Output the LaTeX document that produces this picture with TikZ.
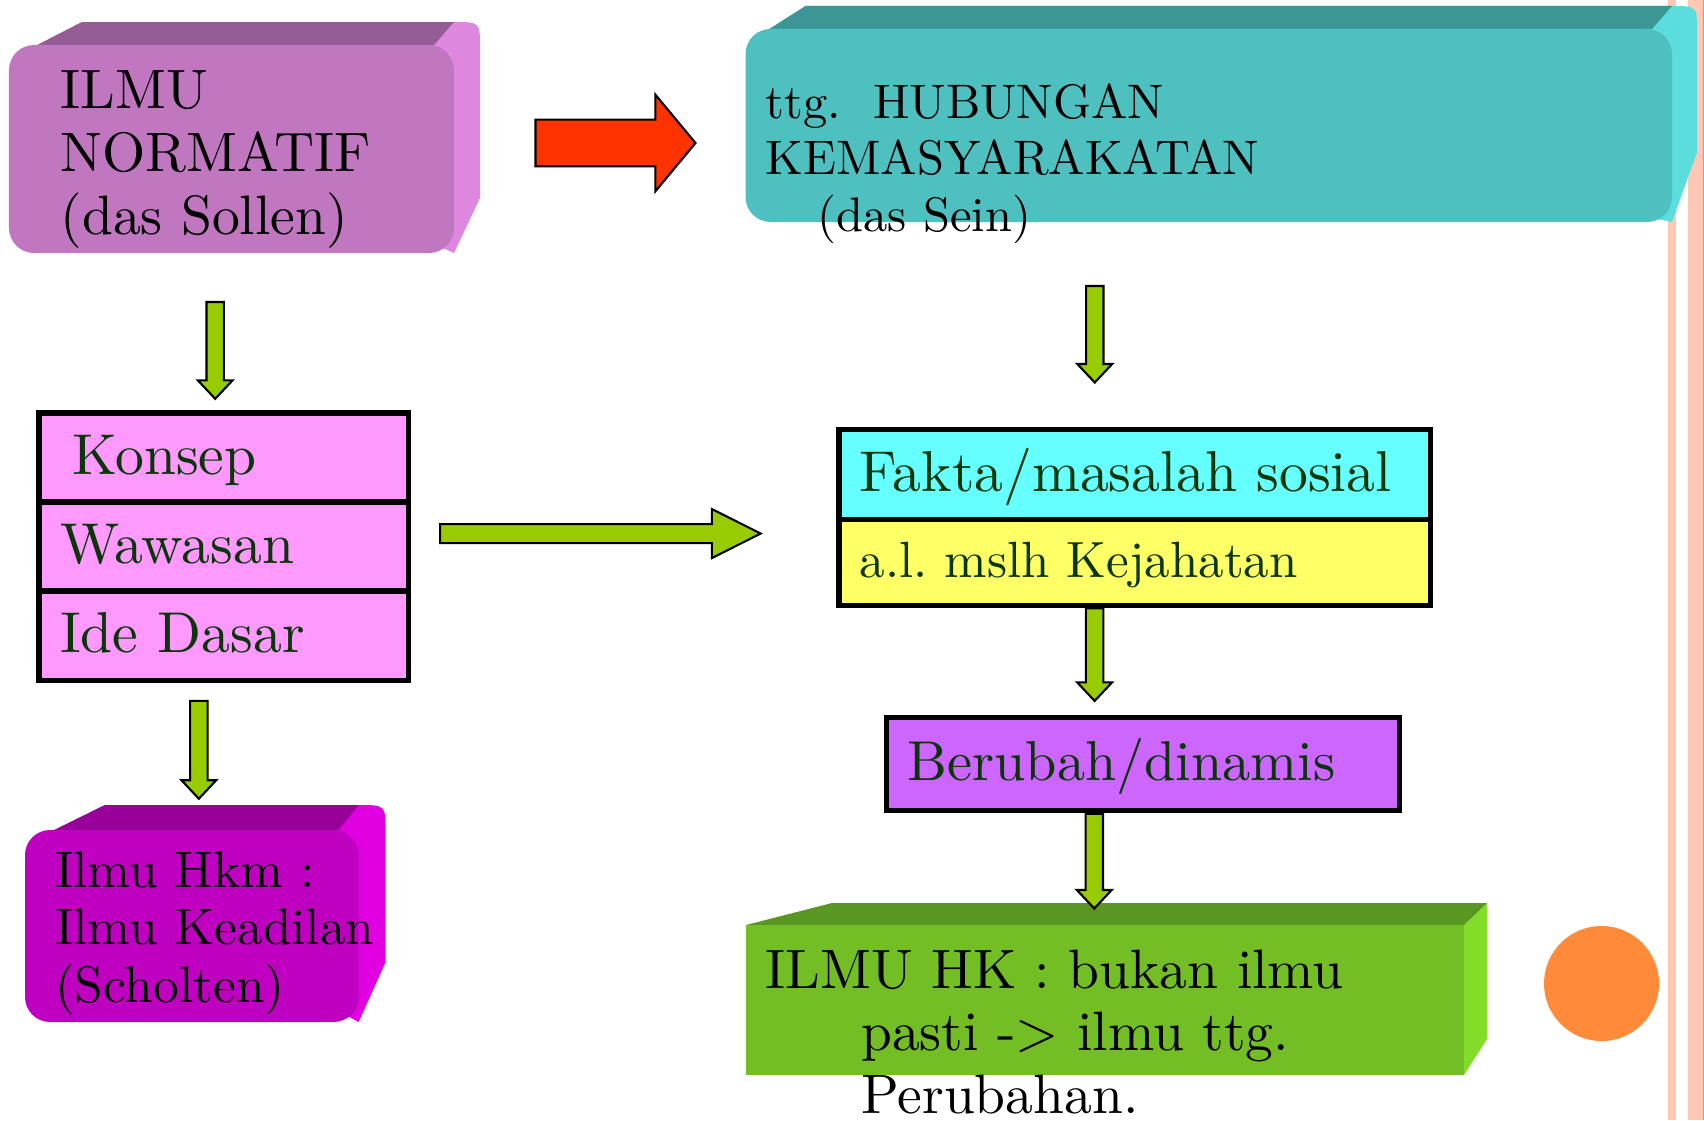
\documentclass[tikz,border=0pt]{standalone}
\usepackage{fontspec}
\usepackage{xcolor}
\usepackage{tikz}
\usetikzlibrary{positioning, calc, backgrounds}

\newfontfamily\lmten{lmroman10-regular}[Extension=.otf]
\newcommand\txtsize[2]{\lmten\fontsize{#1}{#2}\selectfont}

\definecolor{normatifFront}{HTML}{C176C0}
\definecolor{normatifTop}{HTML}{965C96}
\definecolor{normatifSide}{HTML}{DE87DE}
\definecolor{seinFront}{HTML}{4FC0C0}
\definecolor{seinTop}{HTML}{3D9696}
\definecolor{seinSide}{HTML}{5BDDDD}
\definecolor{hkmFront}{HTML}{C000C0}
\definecolor{hkmTop}{HTML}{990099}
\definecolor{hkmSide}{HTML}{E000E0}
\definecolor{hkFront}{HTML}{73BE25}
\definecolor{hkTop}{HTML}{5A9622}
\definecolor{hkSide}{HTML}{82DC28}
\definecolor{cellPink}{HTML}{FF99FF}
\definecolor{cellCyan}{HTML}{66FFFF}
\definecolor{cellYellow}{HTML}{FFFF66}
\definecolor{cellViolet}{HTML}{CC66FF}
\definecolor{textGreen}{HTML}{0A360A}
\definecolor{arrowGreen}{HTML}{99CC00}
\definecolor{arrowRed}{HTML}{FF3300}
\definecolor{dotOrange}{HTML}{FF8A3A}
\definecolor{stripePeach}{HTML}{FCC8B4}
\definecolor{stripeLine}{HTML}{F0904C}

\pgfdeclarelayer{stripes}
\pgfsetlayers{stripes,background,main}

\tikzset{
  dblock/.style n args={3}{to path={
    ($(\tikztostart)+(-#1,0)$) -- ($(\tikztotarget)+(-#1,#3)$) -- ($(\tikztotarget)+(-#2,#3)$)
    -- (\tikztotarget) -- ($(\tikztotarget)+(#2,#3)$) -- ($(\tikztotarget)+(#1,#3)$)
    -- ($(\tikztostart)+(#1,0)$) -- cycle}},
  rblock/.style n args={3}{to path={
    ($(\tikztostart)+(0,#1)$) -- ($(\tikztotarget)+(-#3,#1)$) -- ($(\tikztotarget)+(-#3,#2)$)
    -- (\tikztotarget) -- ($(\tikztotarget)+(-#3,-#2)$) -- ($(\tikztotarget)+(-#3,-#1)$)
    -- ($(\tikztostart)+(0,-#1)$) -- cycle}}
}

\begin{document}
\begin{tikzpicture}[every node/.style={font=\txtsize{16pt}{18pt}},
  front/.style={inner sep=0pt, outer sep=0pt, anchor=north west},
  boxtext/.style={inner sep=0pt, anchor=base west, align=left, text width=9cm},
  cell/.style={draw, line width=1.5pt, outer sep=0pt, inner xsep=0.21cm, inner ysep=0pt, align=left,
    text=textGreen, text height=12.8pt, text depth=3.2pt},
  garrow/.style={draw=black, line width=0.6pt, fill=arrowGreen},
  rarrow/.style={draw=black, line width=0.6pt, fill=arrowRed}]

\useasboundingbox (0,0) rectangle (17.04,-11.2);

% Slide stripes
\begin{pgfonlayer}{stripes}
\fill[stripePeach] (16.68,0) rectangle (16.755,-11.2);
\fill[stripePeach] (16.88,0) rectangle (17.04,-11.2);
\fill[stripeLine] (17.025,0) rectangle (17.04,-11.2);
\end{pgfonlayer}

% Top left: normatif
\node (normatif) [front, fill=normatifFront, rounded corners=0.25cm, minimum width=4.45cm, minimum height=2.08cm] at (0.09,-0.45) {};
\node (normatifText) [boxtext, font=\txtsize{15.8pt}{18pt}] at ($(normatif.north west)+(0.51,-0.63)$) {ILMU\\NORMATIF\\(das Sollen)};

% Top right: das Sein
\node (sein) [front, fill=seinFront, rounded corners=0.25cm, minimum width=9.265cm, minimum height=1.93cm] at (7.455,-0.29) {};
\node (seinText) [boxtext, font=\txtsize{13.8pt}{16.2pt}] at ($(sein.north west)+(0.195,-0.89)$) {ttg.~~HUBUNGAN\\KEMASYARAKATAN\\\hspace*{0.52cm}(das Sein)};

% Bottom left: Scholten
\node (hkm) [front, fill=hkmFront, rounded corners=0.25cm, minimum width=3.336cm, minimum height=1.92cm] at (0.25,-8.30) {};
\node (hkmText) [boxtext, font=\txtsize{14.6pt}{16.4pt}] at ($(hkm.north west)+(0.293,-0.57)$) {Ilmu Hkm :\\Ilmu Keadilan\\(Scholten)};

% Bottom right: ilmu hk
\node (hk) [front, fill=hkFront, minimum width=7.18cm, minimum height=1.50cm] at (7.46,-9.25) {};
\node (hkText) [boxtext, font=\txtsize{15.8pt}{17.8pt}] at ($(hk.north west)+(0.19,-0.63)$) {ILMU HK : bukan ilmu\\\hspace*{0.956cm}pasti -\textgreater{} ilmu ttg.\\\hspace*{0.956cm}Perubahan.};

% 3D faces
\begin{scope}[on background layer]
\fill[normatifSide] ($(normatif.north west)+(0.05,-0.12)$) -- ($(normatif.north west)+(0.73,0.23)$) -- ($(normatif.north east)+(0,0.23)$)
  .. controls ($(normatif.north east)+(0.26,0.23)$) .. ($(normatif.north east)+(0.26,-0.03)$) -- ($(normatif.south east)+(0.26,0.55)$) -- (normatif.south east) -- cycle;
\fill[normatifTop] ($(normatif.north west)+(0.05,-0.12)$) -- ($(normatif.north west)+(0.73,0.23)$) -- ($(normatif.north east)+(0,0.23)$) -- ($(normatif.north east)+(-0.2,0)$) -- cycle;
\fill[seinSide] ($(sein.north west)+(0.05,-0.12)$) -- ($(sein.north west)+(0.6,0.23)$) -- ($(sein.north east)+(0,0.23)$)
  .. controls ($(sein.north east)+(0.25,0.23)$) .. ($(sein.north east)+(0.25,-0.03)$) -- ($(sein.south east)+(0.25,0.7)$) -- (sein.south east) -- cycle;
\fill[seinTop] ($(sein.north west)+(0.05,-0.12)$) -- ($(sein.north west)+(0.6,0.23)$) -- ($(sein.north east)+(0,0.23)$) -- ($(sein.north east)+(-0.2,0)$) -- cycle;
\fill[hkmSide] ($(hkm.north west)+(0.05,-0.12)$) -- ($(hkm.north west)+(0.8,0.25)$) -- ($(hkm.north east)+(0,0.25)$)
  .. controls ($(hkm.north east)+(0.27,0.25)$) .. ($(hkm.north east)+(0.27,-0.03)$) -- ($(hkm.south east)+(0.27,0.6)$) -- (hkm.south east) -- cycle;
\fill[hkmTop] ($(hkm.north west)+(0.05,-0.12)$) -- ($(hkm.north west)+(0.8,0.25)$) -- ($(hkm.north east)+(0,0.25)$) -- ($(hkm.north east)+(-0.2,0)$) -- cycle;
\fill[hkSide] (hk.north east) -- ($(hk.north east)+(0.23,0.22)$) -- ($(hk.south east)+(0.23,0.36)$) -- (hk.south east) -- cycle;
\fill[hkTop] (hk.north west) -- ($(hk.north west)+(0.86,0.22)$) -- ($(hk.north east)+(0.23,0.22)$) -- (hk.north east) -- cycle;
\end{scope}

% Left stack
\node (konsep) [cell, fill=cellPink, anchor=north west, text width=3.275cm, minimum height=0.891cm, font=\txtsize{16.4pt}{18pt}] at (0.391,-4.129) {\hspace*{0.12cm}Konsep};
\node (wawasan) [cell, fill=cellPink, below=0pt of konsep, text width=3.275cm, minimum height=0.891cm, font=\txtsize{16.4pt}{18pt}] {Wawasan};
\node (idedasar) [cell, fill=cellPink, below=0pt of wawasan, text width=3.275cm, minimum height=0.891cm, font=\txtsize{16.4pt}{18pt}] {Ide Dasar};

% Right stack
\node (fakta) [cell, fill=cellCyan, anchor=north west, text width=5.494cm, minimum height=0.902cm, font=\txtsize{16.4pt}{18pt}] at (8.389,-4.292) {Fakta/masalah sosial};
\node (kejahatan) [cell, fill=cellYellow, below=0pt of fakta, text width=5.494cm, minimum height=0.858cm,
  font=\txtsize{14.5pt}{16pt}, text height=11.6pt, text depth=2.9pt] {a.l.\ mslh Kejahatan};
\node (berubah) [cell, fill=cellViolet, anchor=north west, text width=4.711cm, minimum height=0.935cm] at (8.867,-7.172) {Berubah/dinamis};

% Dot
\node (dot) [circle, fill=dotOrange, inner sep=0pt, minimum size=1.15cm] at (16.015,-9.835) {};

% Arrows
\draw[rarrow, rblock={0.234}{0.484}{0.402}] ($(normatif.east)+(0.815,0.06)$) coordinate (r1) to ($(r1 -| sein.west)+(-0.5,0)$);
\draw[garrow, rblock={0.095}{0.245}{0.489}] ($(wawasan.east)+(0.315,0.13)$) coordinate (g1) to ($(g1 -| fakta.west)+(-0.782,0)$);
\draw[garrow, dblock={0.087}{0.174}{0.185}] ($(normatif.south)+(-0.163,-0.49)$) coordinate (d1) to ($(konsep.north -| d1)+(0,0.141)$);
\draw[garrow, dblock={0.087}{0.174}{0.185}] ($(idedasar.south)+(-0.25,-0.206)$) coordinate (d2) to ($(hkm.north -| d2)+(0,0.313)$);
\draw[garrow, dblock={0.087}{0.174}{0.185}] ($(sein.south)+(-1.14,-0.64)$) coordinate (d3) to ($(fakta.north -| d3)+(0,0.467)$);
\draw[garrow, dblock={0.087}{0.174}{0.185}] ($(kejahatan.south)+(-0.40,-0.03)$) coordinate (d4) to ($(berubah.north -| d4)+(0,0.163)$);
\draw[garrow, dblock={0.087}{0.174}{0.185}] ($(berubah.south)+(-0.49,-0.03)$) coordinate (d5) to ($(hk.north -| d5)+(0,0.165)$);

\end{tikzpicture}
\end{document}
